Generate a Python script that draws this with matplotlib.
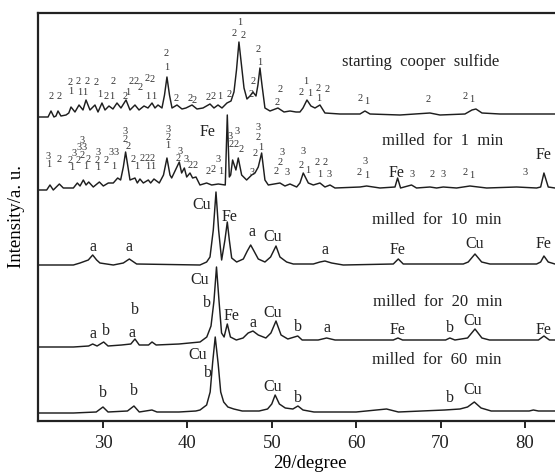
import numpy as np
import matplotlib
matplotlib.use("Agg")
import matplotlib.pyplot as plt

plt.rcParams['font.family'] = ['Liberation Serif', 'DejaVu Serif']

# XRD patterns: (2theta, intensity above the pattern's own baseline), a.u.
starting = [(22.30, -5), (23.49, -5), (23.84, 1), (24.19, -5), (24.43, -4), (24.67, 1), (25.02, -4),
            (25.62, -3), (25.95, -1), (26.21, 5), (26.68, 0), (27.16, 7), (27.63, 2), (27.99, 12),
            (28.46, 2), (29.05, 7), (29.41, 0), (29.88, 9), (30.24, 2), (30.71, 6), (31.18, 3),
            (31.66, 9), (32.13, 4), (32.73, 12), (33.20, 2), (33.79, 7), (34.27, 2), (34.86, 6),
            (35.33, 4), (35.81, 9), (36.16, 4), (36.52, 7), (36.99, 4), (37.29, 17), (37.58, 35),
            (37.88, 17), (38.18, 4), (38.77, 7), (39.36, 3), (39.83, 4), (40.55, 7), (41.14, 3),
            (41.85, 4), (42.68, 8), (43.15, 4), (43.63, 7), (44.10, 4), (44.69, 9), (45.17, 11),
            (45.52, 20), (45.82, 42), (46.11, 70), (46.41, 47), (46.71, 24), (47.06, 13), (47.42, 16),
            (47.77, 20), (48.13, 16), (48.36, 27), (48.60, 44), (48.84, 27), (49.19, 4), (49.79, 1),
            (50.73, 4), (51.45, 0), (52.16, 1), (52.87, 0), (53.34, 0), (53.70, 4), (54.17, 12),
            (54.64, 6), (55.12, 4), (55.71, 7), (56.30, -1), (58.08, -2), (60.45, -2), (61.04, 1),
            (61.64, -2), (65.19, -3), (68.74, -1), (69.93, -3), (72.89, -2), (73.72, 2), (74.19, 3),
            (74.91, -1), (77.04, -2), (80.59, -2), (83.67, -2), (86.80, -2)]

milled_1 = [(22.30, -3), (23.33, -3), (23.72, 2), (24.11, -3), (24.83, 3), (25.30, -1), (26.49, -1),
            (26.96, 4), (27.28, 1), (27.67, 7), (27.99, 2), (28.31, 5), (28.85, 0), (29.57, 5),
            (30.04, 1), (30.63, 4), (31.22, 4), (31.74, 9), (32.09, 7), (32.41, 20), (32.68, 35),
            (32.96, 20), (33.20, 7), (33.79, 9), (34.07, 4), (34.38, 8), (34.78, 4), (35.37, 7),
            (35.65, 4), (36.04, 8), (36.67, 4), (37.17, 12), (37.58, 29), (37.94, 12), (38.14, 9),
            (39.04, 25), (39.32, 14), (39.64, 19), (39.92, 10), (40.31, 14), (40.62, 9), (41.02, 10),
            (41.49, 2), (42.28, 4), (42.88, 2), (43.66, 3), (44.49, 2), (44.73, 72), (44.97, 10),
            (45.13, 12), (45.36, 27), (45.75, 17), (46.03, 29), (46.43, 12), (47.02, 7), (47.62, 12),
            (48.01, 14), (48.40, 20), (48.80, 34), (49.19, 7), (49.59, 2), (50.97, 4), (51.56, 1),
            (52.16, 3), (52.95, 0), (53.34, 4), (53.73, 14), (54.33, 4), (54.92, 2), (55.71, 4),
            (56.30, 0), (56.90, 2), (57.49, -1), (60.45, 0), (61.24, 1), (62.82, -1), (64.60, 0),
            (64.91, 9), (65.26, -1), (66.56, 2), (67.15, -1), (68.74, 0), (69.53, -1), (70.32, 0),
            (71.90, -1), (73.48, 1), (75.46, -1), (79.01, 0), (81.38, -1), (81.86, 0), (82.25, 14),
            (82.76, 0), (83.55, -1), (86.80, -1)]

milled_10 = [(22.30, 0), (26.49, 0), (27.28, 2), (28.26, 5), (28.78, 10), (29.25, 5), (29.64, 2),
             (31.22, 0), (32.41, 2), (33.12, 6), (33.99, 1), (41.49, 0), (42.28, 3), (42.68, 8),
             (43.07, 35), (43.39, 73), (43.70, 35), (44.06, 5), (44.45, 25), (44.73, 43), (44.97, 25),
             (45.25, 7), (45.84, 3), (46.63, 6), (47.10, 14), (47.50, 20), (47.89, 14), (48.40, 6),
             (49.19, 3), (49.86, 8), (50.50, 19), (50.97, 8), (51.76, 3), (52.55, 1), (54.92, 1),
             (55.71, 3), (56.30, 4), (57.09, 2), (58.47, 0), (64.40, 1), (64.99, 6), (65.58, 1),
             (72.69, 1), (73.28, 3), (74.08, 11), (74.87, 3), (75.85, 1), (81.38, 1), (81.86, 3),
             (82.25, 9), (82.76, 3), (83.55, 1), (86.80, 1)]

milled_20 = [(22.30, -6), (26.50, -6), (28.30, -5), (28.78, -3), (29.30, -5), (30.08, -1), (30.60, -5),
             (32.20, -4), (33.30, -3), (33.79, 2), (34.30, -4), (35.40, -4), (35.81, -1), (36.30, -4),
             (39.00, -3), (41.50, -1), (42.30, 4), (42.80, 15), (43.15, 40), (43.45, 74), (43.75, 40),
             (44.05, 8), (44.35, 4), (44.73, 17), (45.10, 4), (45.80, 1), (46.60, 3), (47.20, 8),
             (47.77, 10), (48.40, 6), (49.30, 3), (49.90, 8), (50.50, 20), (51.10, 6), (51.90, 2),
             (53.08, 5), (53.60, 1), (55.50, 1), (56.50, 3), (57.50, 1), (64.40, 1), (64.95, 3),
             (65.50, 1), (70.60, 1), (71.10, 3), (71.70, 1), (73.20, 3), (74.08, 12), (74.90, 3),
             (75.80, 1), (81.60, 1), (82.25, 5), (82.90, 1), (86.80, 1)]

milled_60 = [(22.30, -1), (26.50, -1), (29.20, 0), (30.00, 5), (30.60, 0), (32.90, 1), (33.67, 6),
             (34.30, 0), (35.80, 2), (36.40, 0), (39.00, 0), (41.00, 1), (41.50, 2), (42.28, 7),
             (42.70, 20), (43.00, 50), (43.30, 75), (43.65, 48), (43.95, 20), (44.30, 10), (44.80, 5),
             (45.50, 3), (46.50, 1), (48.50, 1), (49.50, 3), (50.00, 8), (50.40, 17), (50.90, 8),
             (51.60, 4), (52.50, 3), (53.10, 6), (53.70, 2), (55.00, 0), (60.00, 0), (63.60, 3),
             (65.00, 0), (70.50, 2), (72.30, 3), (73.20, 5), (74.00, 10), (74.80, 4), (76.00, 1),
             (80.50, 1), (81.00, 2), (81.60, 1), (86.80, 1)]

patterns = [starting, milled_1, milled_10, milled_20, milled_60]
baselines = [309, 234, 156, 80, 9]
names = ['starting  cooper  sulfide', 'milled  for  1  min', 'milled  for  10  min',
         'milled  for  20  min', 'milled  for  60  min']
name_pos = [(67.6, 50), (70.2, 46), (69.6, 45), (69.6, 39), (69.6, 52)]

# peak assignments: (2theta, height above baseline, label)
marks_start = [(23.84, 15, '2'), (24.79, 15, '2'), (26.09, 29, '2'), (26.21, 20, '1'), (27.04, 30, '2'),
               (28.10, 30, '2'), (29.17, 29, '2'), (27.28, 19, '1'), (27.87, 19, '1'), (29.64, 17, '1'),
               (30.36, 15, '2'), (31.07, 15, '1'), (31.18, 30, '2'), (32.61, 15, '2'), (33.32, 30, '2'),
               (33.91, 30, '2'), (32.96, 19, '1'), (34.38, 24, '2'), (35.21, 33, '2'), (35.81, 32, '2'),
               (35.33, 15, '1'), (36.04, 15, '1'), (37.46, 58, '2'), (37.58, 44, '1'), (38.65, 13, '2'),
               (40.31, 13, '2'), (40.78, 11, '2'), (42.44, 14, '2'), (43.10, 15, '2'), (43.86, 15, '1'),
               (44.93, 17, '2'), (45.52, 78, '2'), (46.59, 76, '2'), (46.23, 89, '1'), (48.36, 62, '2'),
               (48.60, 49, '1'), (47.80, 30, '2'), (47.60, 17, '2'), (50.97, 22, '2'), (50.62, 9, '2'),
               (54.05, 30, '1'), (53.46, 19, '2'), (54.53, 18, '1'), (55.47, 23, '2'), (55.59, 13, '1'),
               (56.54, 22, '2'), (60.45, 13, '2'), (61.28, 10, '1'), (68.51, 12, '2'), (72.89, 15, '2'),
               (73.72, 12, '1')]

marks_1 = [(23.49, 30, '3'), (23.60, 22, '1'), (24.79, 27, '2'), (26.05, 26, '2'), (26.33, 19, '1'),
           (26.62, 33, '3'), (27.00, 26, '2'), (27.50, 46, '3'), (27.20, 39, '3'), (27.80, 39, '3'),
           (27.50, 31, '2'), (27.90, 20, '1'), (28.20, 27, '2'), (29.41, 34, '3'), (29.29, 26, '2'),
           (29.41, 19, '1'), (30.36, 26, '2'), (30.95, 34, '3'), (31.54, 34, '3'), (31.30, 20, '1'),
           (32.61, 55, '3'), (32.61, 47, '2'), (32.96, 40, '2'), (33.55, 27, '2'), (34.03, 20, '1'),
           (34.62, 28, '2'), (35.21, 28, '2'), (35.81, 28, '2'), (35.33, 20, '1'), (35.92, 20, '1'),
           (37.70, 57, '3'), (37.70, 49, '2'), (37.70, 41, '1'), (39.12, 35, '3'), (38.89, 28, '2'),
           (39.83, 27, '3'), (40.31, 21, '2'), (40.90, 21, '2'), (42.44, 15, '2'), (43.03, 17, '2'),
           (43.63, 27, '3'), (43.98, 15, '1'), (45.05, 50, '3'), (45.88, 55, '3'), (45.17, 42, '2'),
           (45.76, 42, '2'), (46.35, 37, '2'), (48.36, 59, '3'), (48.36, 49, '2'), (48.72, 39, '1'),
           (48.01, 33, '2'), (47.65, 14, '3'), (51.21, 34, '3'), (50.97, 24, '2'), (50.50, 15, '2'),
           (51.80, 14, '3'), (53.70, 35, '3'), (53.46, 21, '2'), (54.29, 16, '1'), (55.36, 24, '2'),
           (56.30, 24, '2'), (55.71, 12, '1'), (56.78, 12, '3'), (61.04, 25, '3'), (60.33, 14, '2'),
           (61.28, 11, '1'), (66.61, 12, '3'), (68.98, 12, '2'), (70.28, 12, '3'), (72.89, 14, '2'),
           (73.72, 11, '1'), (80.00, 14, '3')]
phases_1 = [(42.44, 55, 'Fe'), (64.83, 14, 'Fe'), (82.25, 32, 'Fe')]

phases_10 = [(28.82, 18, 'a'), (33.08, 18, 'a'), (41.73, 60, 'Cu'), (45.05, 48, 'Fe'), (47.65, 33, 'a'),
             (50.14, 28, 'Cu'), (56.30, 15, 'a'), (64.95, 15, 'Fe'), (74.08, 21, 'Cu'), (82.25, 21, 'Fe')]

phases_20 = [(28.82, 7, 'a'), (30.36, 10, 'b'), (33.79, 31, 'b'), (33.43, 8, 'a'), (41.50, 61, 'Cu'),
             (42.30, 38, 'b'), (45.20, 25, 'Fe'), (47.77, 18, 'a'), (50.14, 28, 'Cu'), (53.10, 14, 'b'),
             (56.50, 13, 'a'), (64.95, 11, 'Fe'), (71.10, 13, 'b'), (73.84, 20, 'Cu'), (82.25, 11, 'Fe')]

phases_60 = [(30.00, 19, 'b'), (33.67, 21, 'b'), (41.26, 57, 'Cu'), (42.44, 39, 'b'), (50.14, 25, 'Cu'),
             (53.10, 14, 'b'), (71.10, 14, 'b'), (73.84, 22, 'Cu')]

fig = plt.figure(figsize=(5.55, 4.75), dpi=100)
ax = fig.add_axes([38 / 555, 54 / 475, 544 / 555, 408 / 475])

for pat, base in zip(patterns, baselines):
    tt, inten = np.array(pat).T
    ax.plot(tt, inten + base, color='#1e1e1e', lw=1.05)

for name, (x, h), base in zip(names, name_pos, baselines):
    ax.text(x, base + h, name, fontsize=12, ha='center', va='center', color='#222222')

digit_sets = [(marks_start, baselines[0]), (marks_1, baselines[1])]
for marks, base in digit_sets:
    for x, h, s in marks:
        ax.text(x, base + h, s, fontsize=7.5, ha='center', va='center', color='#333333')

phase_sets = [(phases_1, baselines[1]), (phases_10, baselines[2]),
              (phases_20, baselines[3]), (phases_60, baselines[4])]
for marks, base in phase_sets:
    for x, h, s in marks:
        ax.text(x, base + h, s, fontsize=11.5, ha='center', va='center', color='#222222')

ax.set_xlim(22.3, 86.76)
ax.set_ylim(0, 408)
ax.set_xticks([30, 40, 50, 60, 70, 80])
ax.set_yticks([])
ax.tick_params(axis='x', direction='out', length=5, width=1.4, labelsize=13.5, pad=5, colors='#222222')
for side in ['left', 'bottom', 'top', 'right']:
    ax.spines[side].set_linewidth(1.6)
    ax.spines[side].set_color('#222222')

ax.set_xlabel('2θ/degree', fontsize=13.5, labelpad=2)
ax.set_ylabel('Intensity/a. u.', fontsize=13.5, labelpad=9)

fig.savefig('out.png', dpi=100)
